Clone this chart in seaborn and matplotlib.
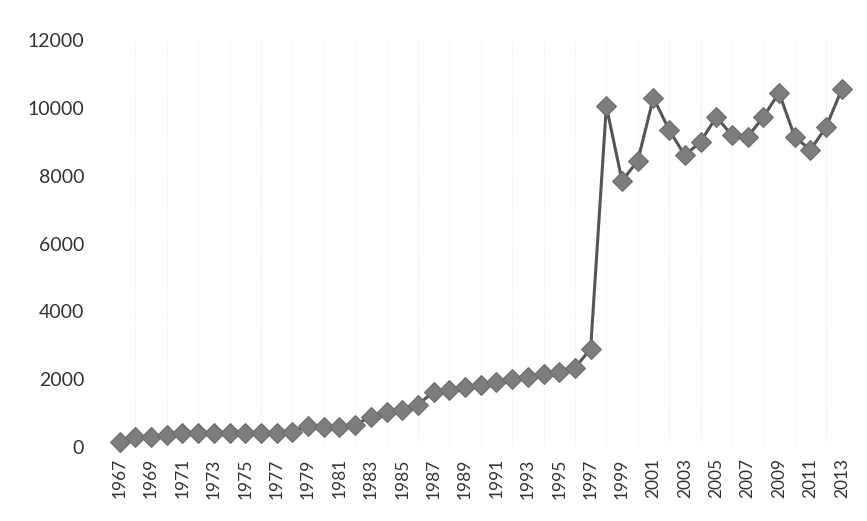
import matplotlib
matplotlib.use("Agg")
import matplotlib.pyplot as plt
import numpy as np
import pandas as pd
import seaborn as sns

years = list(range(1967, 2014))
values = [150, 300, 300, 350, 400, 400, 400, 400, 400, 400,
          400, 450, 620, 600, 600, 650, 900, 1020, 1100, 1250,
          1630, 1680, 1780, 1830, 1930, 2000, 2070, 2150, 2220, 2330,
          2900, 10050, 7850, 8440, 10300, 9350, 8600, 9000, 9730, 9200,
          9150, 9730, 10450, 9150, 8760, 9440, 10550]
yticks = [0, 2000, 4000, 6000, 8000, 10000, 12000]
xticks = list(range(1967, 2014, 2))

df = pd.DataFrame({"year": years, "value": values})

sns.set_style("white")
plt.rcParams["font.family"] = ["Lato", "DejaVu Sans"]

fig = plt.figure(figsize=(8.67, 5.21), dpi=100)
ax = fig.add_axes([0.129, 0.142, 0.851, 0.781])

# faint vertical streaks from the scanned original
ax.set_xticks(years, minor=True)
ax.grid(axis="x", which="minor", color="#ececec", lw=0.7, ls=":")

sns.lineplot(data=df, x="year", y="value", color="#555555", lw=2.2,
             marker="D", markersize=10, markerfacecolor="#7d7d7d",
             markeredgecolor="#6a6a6a", ax=ax, clip_on=False, zorder=3)

ax.set_xlim(1966.5, 2013.5)
ax.set_ylim(0, 12000)
ax.set_yticks(yticks)
ax.set_yticklabels([str(v) for v in yticks], fontsize=14, color="#333333")
ax.set_xticks(xticks)
ax.set_xticklabels([str(v) for v in xticks], rotation=90, fontsize=12.5, color="#333333")
ax.tick_params(axis="y", which="both", length=0, pad=20)
ax.tick_params(axis="x", which="both", length=0, pad=8)
ax.set_xlabel("")
ax.set_ylabel("")
sns.despine(ax=ax, left=True, bottom=True)

fig.savefig("out.png", dpi=100)
